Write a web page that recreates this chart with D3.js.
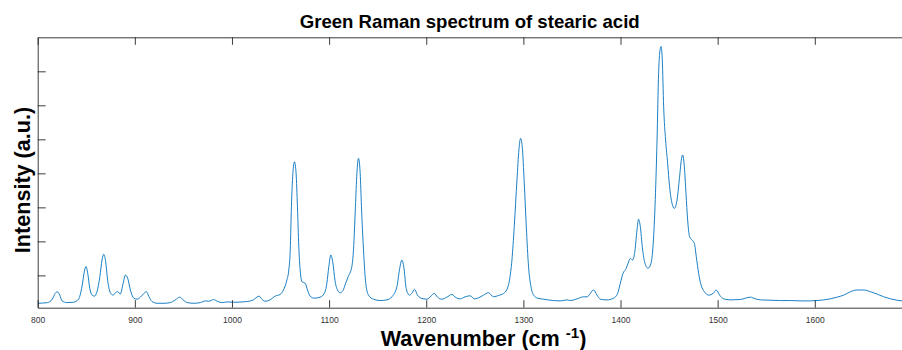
<!DOCTYPE html>
<html>
<head>
<meta charset="utf-8">
<script src="https://cdn.jsdelivr.net/npm/d3@7"></script>
<style>
  body { margin: 0; background: #fff; }
  svg { display: block; font-family: "Liberation Sans", Arial, sans-serif; }
</style>
</head>
<body>
<div id="chart"><svg width="902" height="350"></svg></div>
<script>
// Spectrum
const wavenumbers = [
  800, 810, 815, 818, 820, 822.7, 825, 830, 837, 842, 845.6, 848, 849.7, 851.5, 853.6, 856, 858.3, 861, 864, 866.2,
  868, 870, 872, 874.8, 877.6, 880, 882.4, 885, 888, 890.2, 892.7, 895.4, 899, 902.3, 905.7, 909.2, 912, 914.3, 917.7, 923,
  930, 936.6, 941.7, 946.3, 949.7, 954, 960.7, 967.5, 972.6, 976, 981.3, 984.7, 990, 995, 1001.5, 1015, 1022, 1025.6, 1028, 1030.7,
  1034, 1039.3, 1044.4, 1049.6, 1053, 1056.5, 1058.5, 1060, 1061.2, 1062.7, 1064.3, 1066, 1067.4, 1068.8, 1070.2, 1072.2, 1075.3, 1077.7, 1080.5, 1084.6,
  1090.8, 1095, 1097.7, 1099.7, 1101.8, 1103.9, 1106, 1108.6, 1111.4, 1114.2, 1116.8, 1119.6, 1123.4, 1125.1, 1127.1, 1128.6, 1130.2, 1132, 1133.3, 1135.4,
  1137.4, 1140.5, 1145.7, 1152.6, 1159.5, 1164.6, 1169.8, 1172.4, 1174.9, 1177.3, 1179.3, 1182.7, 1185.2, 1187.9, 1191, 1194.5, 1200.7, 1204.8, 1208.2, 1211.6,
  1216, 1221.3, 1226.4, 1230.8, 1235, 1240, 1245.3, 1249.4, 1253.8, 1259, 1264, 1269.3, 1274.4, 1279.6, 1283.1, 1285.7, 1288.2, 1290.6, 1293.4, 1295.4,
  1297.1, 1298.8, 1300.9, 1303, 1305.3, 1307.8, 1310.5, 1314.6, 1320.8, 1331, 1338, 1345, 1348.3, 1355.2, 1362, 1365.5, 1372.3, 1375.8, 1379.2, 1386,
  1393, 1397, 1399.8, 1402.6, 1405.9, 1408.3, 1410.1, 1412.4, 1414.5, 1417, 1418.6, 1420.4, 1422.4, 1424.8, 1428.3, 1431.4, 1433.4, 1435.5, 1437.6, 1439.2,
  1441, 1441.7, 1443, 1444.4, 1446.4, 1448.5, 1450.5, 1453, 1455.4, 1458.2, 1460.5, 1462.6, 1463.9, 1465.7, 1467.4, 1469.1, 1471.1, 1473.6, 1476, 1478,
  1480.4, 1482.9, 1486.3, 1490.7, 1495.3, 1498.6, 1502, 1506.2, 1513, 1523.4, 1528.5, 1533.7, 1538.8, 1544, 1554, 1564.6, 1575, 1585, 1595.5, 1602.4,
  1609.2, 1616, 1623, 1629.8, 1636.7, 1643.6, 1650.4, 1657.3, 1664.2, 1671, 1677.9, 1684.7, 1690
];
const intensities = [
  0.18, 0.20, 0.30, 0.47, 0.52, 0.42, 0.25, 0.20, 0.21, 0.30, 0.67, 1.11, 1.26, 1.06, 0.62, 0.42, 0.39, 0.52, 0.96, 1.45,
  1.62, 1.40, 0.86, 0.49, 0.42, 0.49, 0.52, 0.45, 0.77, 1.01, 0.91, 0.57, 0.33, 0.30, 0.36, 0.47, 0.52, 0.39, 0.23, 0.18,
  0.18, 0.20, 0.28, 0.36, 0.28, 0.20, 0.18, 0.20, 0.25, 0.24, 0.29, 0.24, 0.20, 0.22, 0.21, 0.23, 0.28, 0.36, 0.39, 0.30,
  0.24, 0.28, 0.39, 0.44, 0.57, 0.86, 1.16, 1.75, 3.02, 4.00, 4.34, 4.00, 3.02, 1.84, 1.16, 0.81, 0.77, 0.57, 0.39, 0.33,
  0.36, 0.47, 0.77, 1.26, 1.60, 1.36, 0.86, 0.57, 0.49, 0.55, 0.75, 0.96, 1.26, 1.75, 3.02, 4.00, 4.44, 4.00, 3.02, 1.75,
  0.86, 0.42, 0.30, 0.26, 0.28, 0.37, 0.67, 1.16, 1.45, 1.16, 0.62, 0.42, 0.47, 0.59, 0.42, 0.33, 0.30, 0.39, 0.47, 0.36,
  0.30, 0.36, 0.44, 0.34, 0.31, 0.37, 0.40, 0.31, 0.34, 0.42, 0.49, 0.37, 0.41, 0.47, 0.59, 0.86, 1.45, 2.43, 3.81, 4.69,
  5.03, 4.79, 3.71, 2.43, 1.26, 0.67, 0.42, 0.33, 0.30, 0.26, 0.25, 0.28, 0.26, 0.31, 0.37, 0.37, 0.57, 0.42, 0.30, 0.28,
  0.33, 0.47, 0.77, 1.06, 1.21, 1.40, 1.50, 1.45, 1.65, 2.34, 2.65, 2.43, 1.84, 1.40, 1.21, 1.36, 1.84, 3.02, 4.98, 6.94,
  7.68, 7.73, 7.34, 5.96, 4.98, 4.30, 3.61, 3.12, 2.97, 3.22, 3.81, 4.39, 4.54, 4.20, 3.41, 2.63, 2.14, 2.04, 1.94, 1.55,
  1.06, 0.72, 0.52, 0.42, 0.47, 0.57, 0.42, 0.31, 0.28, 0.29, 0.33, 0.36, 0.31, 0.28, 0.27, 0.26, 0.26, 0.25, 0.25, 0.26,
  0.28, 0.31, 0.36, 0.42, 0.52, 0.57, 0.57, 0.52, 0.45, 0.37, 0.31, 0.27, 0.25
];
const xTicks = [800, 900, 1000, 1100, 1200, 1300, 1400, 1500, 1600];
const yTicks = [1, 2, 3, 4, 5, 6, 7];

const titleText = "Green Raman spectrum of stearic acid";
const xLabel = "Wavenumber (cm";
const yLabel = "Intensity (a.u.)";

const svg = d3.select('#chart svg');
const plotLeft = 37.7, plotRight = 903, plotTop = 37.3, plotBottom = 307.7;
const axisColor = "#262626";
const lineColor = "#0072BD";

const x = d3.scaleLinear().domain([800, 1690.8]).range([plotLeft, plotRight]);
const y = d3.scaleLinear().domain([0.05, 8]).range([plotBottom, plotTop]);

const data = wavenumbers.map((w, i) => ({ w: w, v: intensities[i] }));

svg.append('defs').append('clipPath').attr('id', 'plot-clip')
  .append('rect').attr('x', plotLeft).attr('y', plotTop)
  .attr('width', plotRight - plotLeft).attr('height', plotBottom - plotTop);

// spectrum
const line = d3.line().x(d => x(d.w)).y(d => y(d.v)).curve(d3.curveMonotoneX);
svg.append('path')
  .datum(data)
  .attr('clip-path', 'url(#plot-clip)')
  .attr('fill', 'none')
  .attr('stroke', lineColor)
  .attr('stroke-width', 0.9)
  .attr('d', line);

// bottom axis with inward ticks
const xAxis = svg.append('g').attr('transform', `translate(0,${plotBottom})`)
  .call(d3.axisBottom(x).tickValues(xTicks).tickFormat(d3.format('d'))
    .tickSizeInner(-7.5).tickSizeOuter(0).tickPadding(9.5));
xAxis.select('.domain').attr('stroke', axisColor).attr('stroke-width', 0.9);
xAxis.selectAll('.tick line').attr('stroke', axisColor).attr('stroke-width', 0.9);
xAxis.selectAll('.tick text')
  .attr('fill', '#333').attr('font-size', '8.5px')
  .attr('font-family', '"Liberation Sans", Arial, sans-serif');

// top border with mirrored ticks
const xTop = svg.append('g').attr('transform', `translate(0,${plotTop})`)
  .call(d3.axisTop(x).tickValues(xTicks).tickSizeInner(-7.5).tickSizeOuter(0).tickFormat(''));
xTop.select('.domain').attr('stroke', axisColor).attr('stroke-width', 0.9);
xTop.selectAll('.tick line').attr('stroke', axisColor).attr('stroke-width', 0.9);

// left axis, no labels
const yAxis = svg.append('g').attr('transform', `translate(${plotLeft},0)`)
  .call(d3.axisLeft(y).tickValues(yTicks).tickSizeInner(-8).tickSizeOuter(0).tickFormat(''));
yAxis.select('.domain').attr('stroke', axisColor).attr('stroke-width', 0.9);
yAxis.selectAll('.tick line').attr('stroke', axisColor).attr('stroke-width', 0.9);

// title
svg.append('text')
  .attr('x', 469.7).attr('y', 28.3)
  .attr('text-anchor', 'middle')
  .attr('font-size', '18.6px').attr('font-weight', 'bold')
  .attr('fill', '#000')
  .text(titleText);

// x label with superscript
const xl = svg.append('text')
  .attr('x', 483.5).attr('y', 346)
  .attr('text-anchor', 'middle')
  .attr('font-size', '21.6px').attr('font-weight', 'bold')
  .attr('fill', '#000');
xl.append('tspan').text(xLabel + ' ');
xl.append('tspan').attr('dy', -8).attr('font-size', '15px').text('-1');
xl.append('tspan').attr('dy', 8).text(')');

// y label
svg.append('text')
  .attr('transform', 'translate(29.5,180) rotate(-90)')
  .attr('text-anchor', 'middle')
  .attr('font-size', '21.6px').attr('font-weight', 'bold')
  .attr('fill', '#000')
  .text(yLabel);
</script>
</body>
</html>
